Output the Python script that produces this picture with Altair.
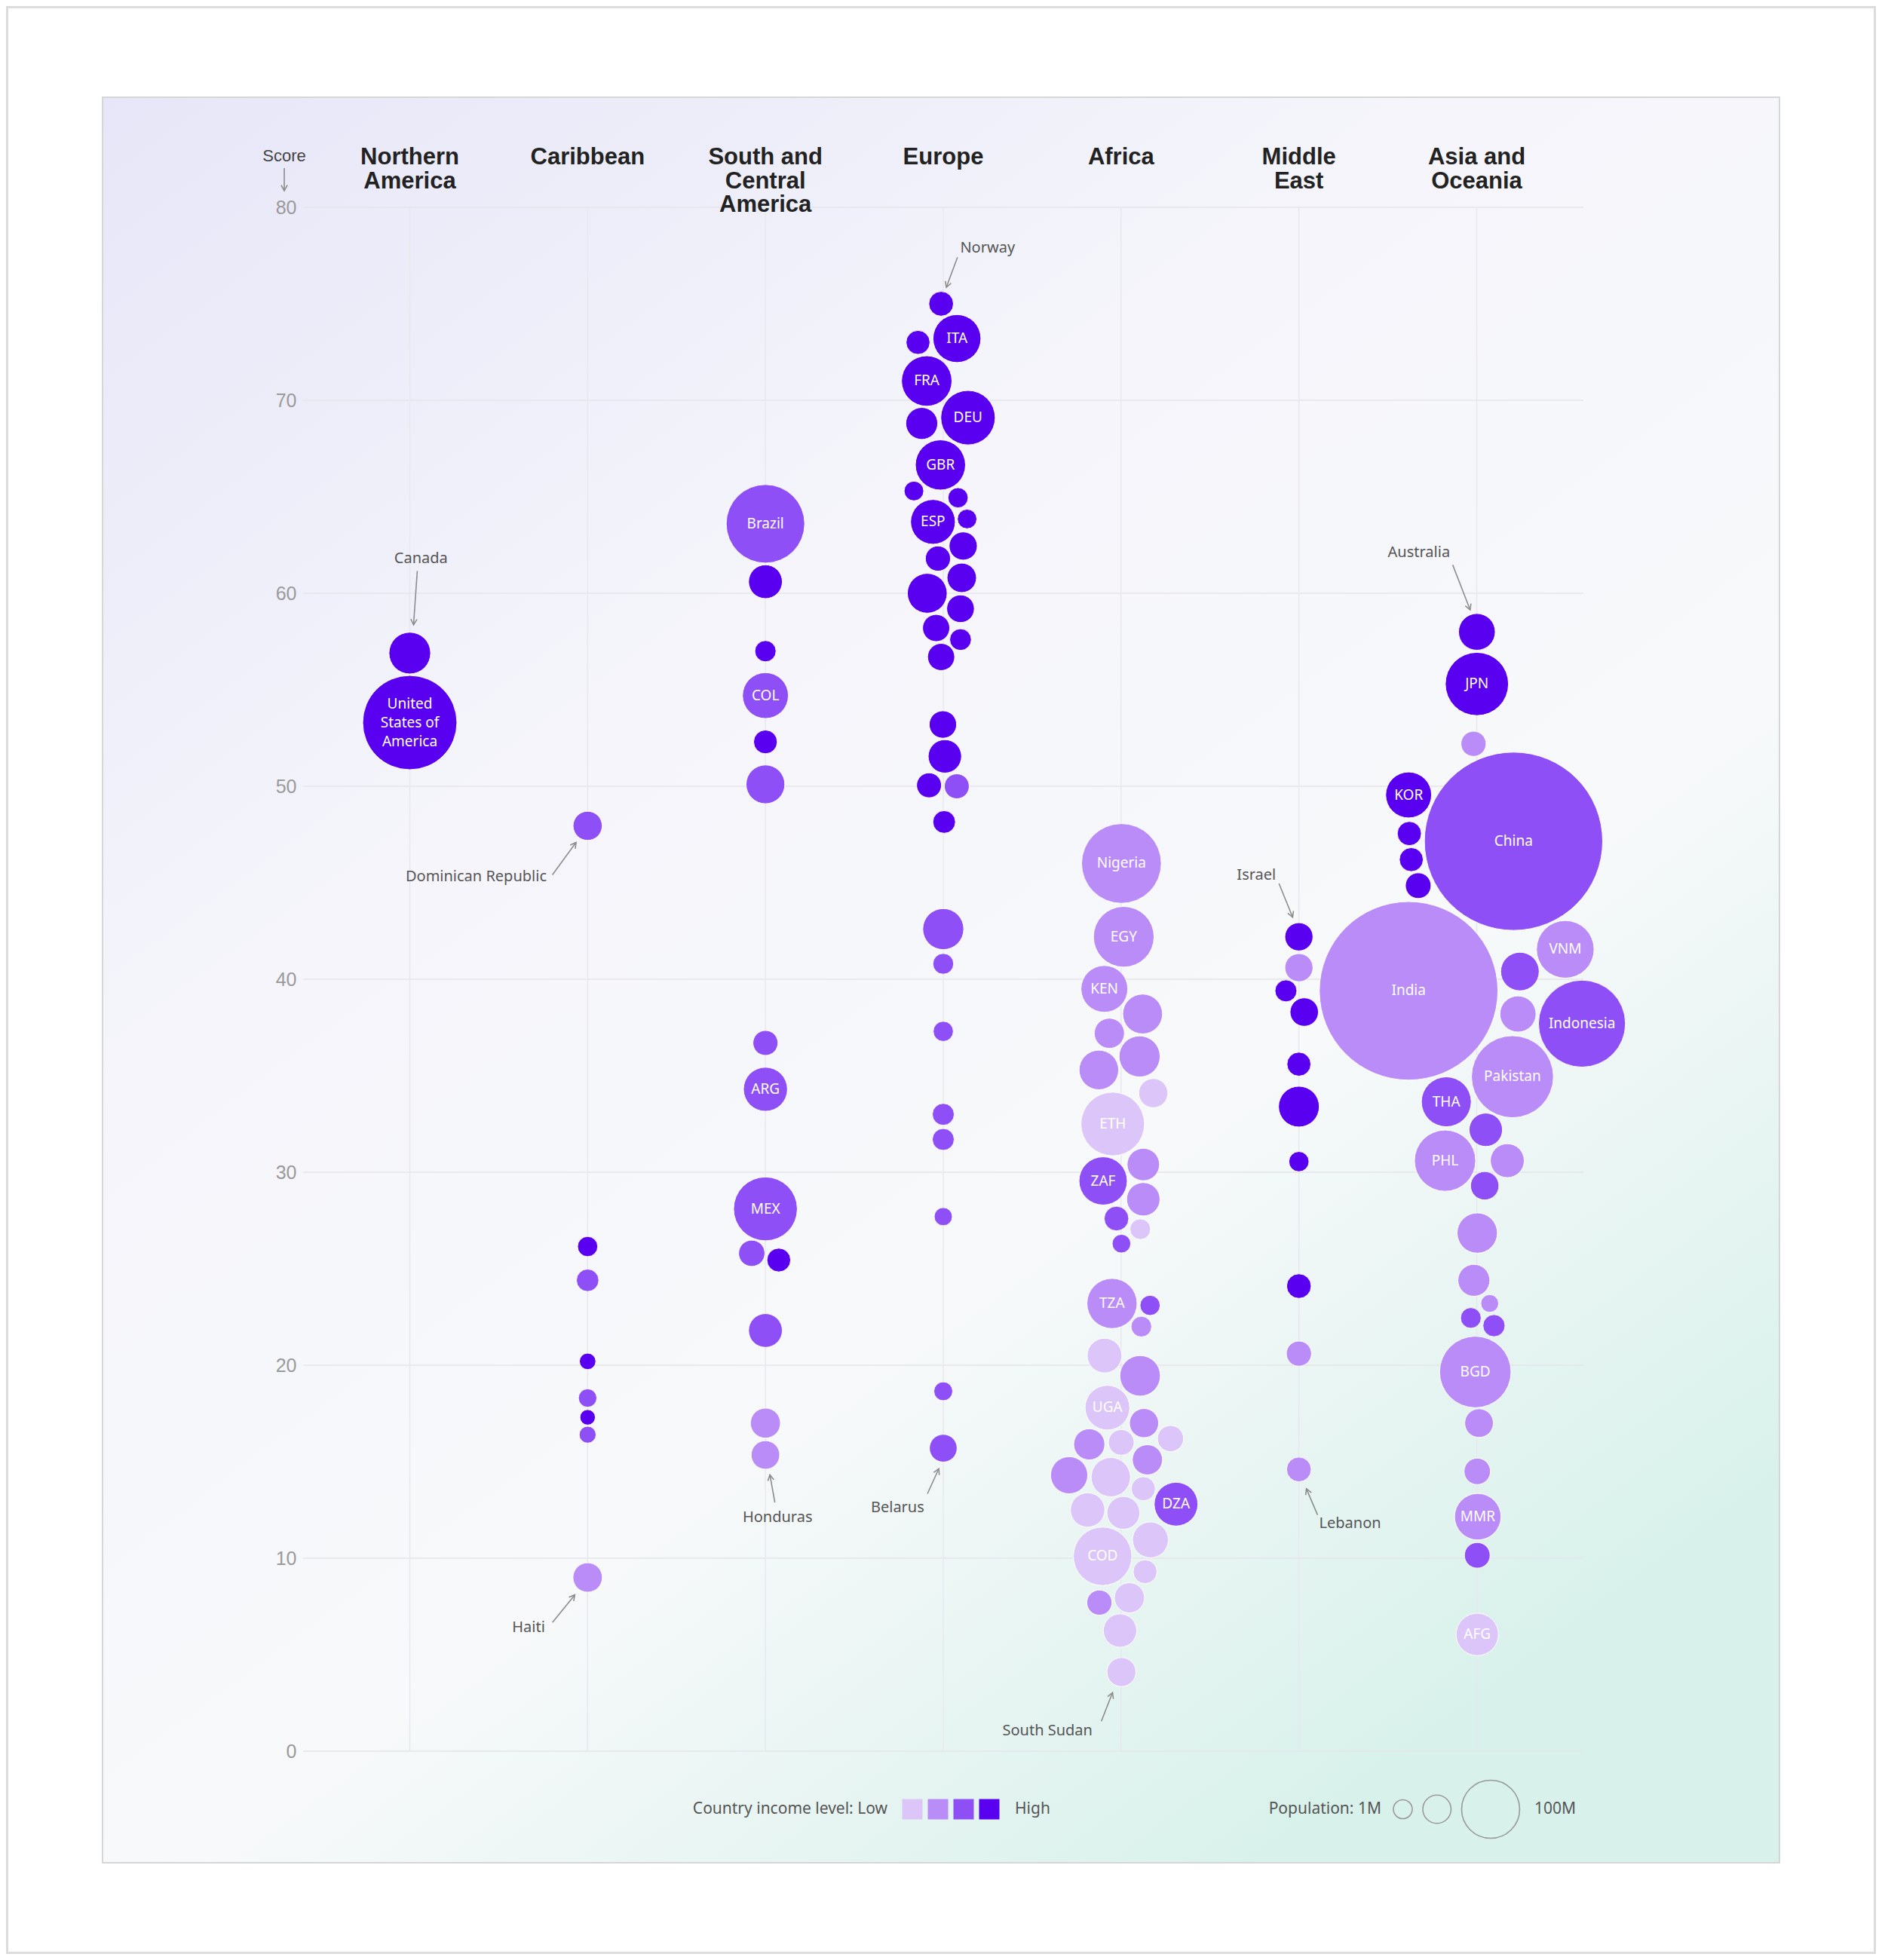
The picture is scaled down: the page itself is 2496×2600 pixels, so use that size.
import math
import altair as alt
import pandas as pd

# ---------------- data ----------------
REGIONS = ["Northern America", "Caribbean", "South and Central America", "Europe",
           "Africa", "Middle East", "Asia and Oceania"]
HEADERS = ["Northern\nAmerica", "Caribbean", "South and\nCentral\nAmerica", "Europe",
           "Africa", "Middle\nEast", "Asia and\nOceania"]
# income level code: 1 Low, 2 Lower-middle, 3 Upper-middle, 4 High
INCOME_COLORS = ["#dcc6f9", "#b98cf8", "#8f4ff7", "#5900f0"]

# swarm offset = horizontal displacement inside a column, in % of column width
NAM_SCORE = [56.9, 53.3]
NAM_POP = [39, 335]
NAM_INCOME = [4, 4]
NAM_OFFSET = [0, 0]
NAM_LABEL = ["", "United\nStates of\nAmerica"]

CAR_SCORE = [47.95, 26.15, 24.4, 20.2, 18.3, 17.3, 16.4, 9.0]
CAR_POP = [11.3, 1.7, 3.3, 0.2, 0.8, 0.05, 0.3, 11.7]
CAR_INCOME = [3, 4, 3, 4, 3, 4, 3, 2]
CAR_OFFSET = [0, 0, 0, 0, 0, 0, 0, 0]
CAR_LABEL = ["", "", "", "", "", "", "", ""]

SCA_SCORE = [63.6, 60.6, 57.0, 54.7, 52.3, 50.1, 36.7, 34.3, 28.1, 25.8, 25.45, 21.8, 17.0, 15.35]
SCA_POP = [216, 19.6, 2.4, 52, 4.5, 31, 5.8, 46, 128, 7.3, 4.5, 19.6, 12.7, 10.4]
SCA_INCOME = [3, 4, 4, 3, 4, 3, 3, 3, 3, 3, 4, 3, 2, 2]
SCA_OFFSET = [0, 0, 0, 0, 0, 0, 0, 0, 0, -7.7, 7.5, 0, 0, 0]
SCA_LABEL = ["Brazil", "", "", "COL", "", "", "", "ARG", "MEX", "", "", "", "", ""]

EUR_SCORE = [75.0, 73.0, 73.2, 71.0, 68.8, 69.1, 66.65, 65.3, 64.95, 63.7, 63.85, 62.45,
             61.8, 60.8, 60.0, 59.2, 58.2, 57.6, 56.7, 53.2, 51.55, 50.05, 50.0, 48.15,
             42.6, 40.8, 37.3, 33.0, 31.7, 27.7, 18.65, 15.7]
EUR_POP = [5.5, 4.7, 59, 68, 16, 84, 67, 1.4, 1.7, 48, 1.3, 9.8, 6.0, 11.7, 33.7, 9.1,
           8.4, 2.7, 8.4, 8.8, 18.8, 5.7, 5.7, 3.5, 37.1, 2.1, 1.7, 2.9, 2.9, 0.7, 1.0, 9.2]
EUR_INCOME = [4, 4, 4, 4, 4, 4, 4, 4, 4, 4, 4, 4, 4, 4, 4, 4, 4, 4, 4, 4, 4, 4, 3, 4,
              3, 3, 3, 3, 3, 3, 3, 3]
EUR_OFFSET = [-1.2, -14.2, 7.7, -9.3, -12.1, 13.9, -1.6, -16.5, 8.3, -5.8, 13.4, 11.2,
              -3.0, 10.4, -9.0, 9.7, -4.0, 9.7, -1.2, -0.2, 0.9, -8.0, 7.6, 0.5,
              0, 0, 0, 0, 0, 0, 0, 0]
EUR_LABEL = ["", "", "ITA", "FRA", "", "DEU", "GBR", "", "", "ESP", "", "", "", "", "", "",
             "", "", "", "", "", "", "", "", "", "", "", "", "", "", "", ""]

AFR_SCORE = [46.0, 42.2, 39.5, 38.2, 37.2, 36.0, 35.3, 34.1, 32.5, 30.4, 29.55, 28.6, 27.6,
             27.05, 26.3, 23.2, 23.1, 22.0, 20.5, 19.45, 17.8, 17.0, 16.2, 15.9, 16.0, 15.1,
             14.3, 14.2, 13.6, 12.8, 12.5, 12.35, 10.95, 10.1, 9.3, 7.7, 7.95, 6.25, 4.1]
AFR_POP = [224, 112, 55, 33.7, 12.9, 37.1, 33.0, 11.3, 127, 16.9, 60, 18.8, 5.4, 2.0, 0.9,
           67, 1.7, 2.0, 21.4, 35.7, 48, 11.3, 7.2, 14.6, 6.6, 12.9, 27.0, 32.4, 4.9, 45,
           20.9, 17.9, 24.1, 102, 4.7, 6.0, 12.9, 18.8, 11]
AFR_INCOME = [2, 2, 2, 2, 2, 2, 2, 1, 1, 2, 3, 2, 3, 1, 3, 2, 3, 2, 1, 2, 1, 2, 1, 2, 1, 2,
              2, 1, 1, 3, 1, 1, 1, 1, 1, 2, 1, 1, 1]
AFR_OFFSET = [0.2, 1.5, -9.4, 12.1, -6.6, 10.4, -12.5, 18.1, -4.7, 12.5, -10.1, 12.5, -2.6,
              10.8, 0.2, -5.1, 16.3, 11.4, -9.3, 10.7, -7.7, 12.9, 27.8, -17.9, 0.1, 14.8,
              -29.2, -5.8, 12.5, 30.9, -18.8, 1.3, 16.5, -10.4, 13.5, -12.2, 4.7, -0.6, 0.2]
AFR_LABEL = ["Nigeria", "EGY", "KEN", "", "", "", "", "", "ETH", "", "ZAF", "", "", "", "",
             "TZA", "", "", "", "", "UGA", "", "", "", "", "", "", "", "", "DZA", "", "", "",
             "COD", "", "", "", "", ""]

MEA_SCORE = [42.2, 40.6, 39.4, 38.3, 35.6, 33.4, 30.55, 24.1, 20.6, 14.6]
MEA_POP = [9.8, 9.8, 2.9, 10.2, 4.7, 36.4, 1.7, 5.4, 6.0, 5.5]
MEA_INCOME = [4, 2, 4, 4, 4, 4, 4, 4, 2, 2]
MEA_OFFSET = [0, 0, -7.3, 3.0, 0, 0, 0, 0, 0, 0]
MEA_LABEL = ["", "", "", "", "", "", "", "", "", ""]

ASO_SCORE = [58.0, 55.3, 52.2, 49.55, 47.15, 47.55, 46.2, 44.85, 39.4, 41.55, 40.4, 37.7,
             38.2, 34.95, 33.65, 32.2, 30.6, 30.6, 29.3, 26.85, 24.4, 23.2, 22.45, 22.05,
             19.65, 17.0, 14.5, 12.15, 10.15, 6.05]
ASO_POP = [26, 125, 6.0, 52, 1412, 4.9, 4.7, 6.6, 1417, 98, 30.4, 277, 24.7, 240, 66, 18.8,
           115, 19.85, 10.2, 35, 16, 0.6, 2.0, 3.1, 171, 10.6, 7.5, 54, 6.6, 41]
ASO_INCOME = [4, 4, 2, 4, 3, 4, 4, 4, 2, 2, 3, 3, 2, 2, 3, 3, 2, 2, 3, 2, 2, 2, 3, 3, 2, 2,
              2, 2, 3, 1]
ASO_OFFSET = [0.1, 0.1, -1.8, -38.3, 20.7, -37.9, -36.8, -32.9, -38.3, 49.8, 24.3, 59.2,
              23.2, 20.1, -17.1, 5.1, -17.8, 17.2, 4.5, 0.3, -1.6, 7.3, -3.3, 9.7, -0.8,
              1.3, 0.3, 0.6, 0.3, 0.3]
ASO_LABEL = ["", "JPN", "", "KOR", "China", "", "", "", "India", "VNM", "", "Indonesia", "",
             "Pakistan", "THA", "", "PHL", "", "", "", "", "", "", "", "BGD", "", "", "MMR",
             "", "AFG"]

ANN_TEXT = ["Canada", "Dominican Republic", "Haiti", "Honduras", "Norway", "Belarus",
            "South Sudan", "Israel", "Lebanon", "Australia"]
ANN_X = [0.063, 0.373, 0.668, 2.068, 3.249, 2.743, 3.586, 4.761, 5.288, 5.675]
ANN_Y = [61.8, 45.3, 6.4, 12.1, 77.9, 12.6, 1.04, 45.4, 11.8, 62.1]
ARROW_X1 = [0.042, 0.802, 0.802, 2.053, 3.080, 2.911, 3.889, 4.888, 5.105, 5.865]
ARROW_Y1 = [61.15, 45.41, 6.67, 12.89, 77.41, 13.34, 1.55, 44.96, 12.24, 61.47]
ARROW_X2 = [0.021, 0.935, 0.928, 2.025, 3.017, 2.975, 3.952, 4.965, 5.042, 5.963]
ARROW_Y2 = [58.37, 47.09, 8.10, 14.32, 75.85, 14.64, 3.04, 43.21, 13.60, 59.14]

Y_TICKS = [0, 10, 20, 30, 40, 50, 60, 70, 80]
LEGEND_INCOME = [1, 2, 3, 4]
LEGEND_POP = [1, 10, 100]

# ---------------- layout ----------------
W, H = 1698, 2048
PAD = {"left": 394, "top": 267, "right": 388, "bottom": 269}
X_DOMAIN = [-0.6, 6.6]
PX_PER_COL = W / (X_DOMAIN[1] - X_DOMAIN[0])
PX_PER_PT = H / 80.0
LABEL_LH = 25

X_SCALE = alt.Scale(domain=X_DOMAIN, nice=False, zero=False)
Y_SCALE = alt.Scale(domain=[0, 80], nice=False, zero=False)
Y_AXIS = alt.Axis(values=Y_TICKS, grid=False, domain=False, ticks=False, title="",
                  labelColor="#9a9a9a", labelFontSize=25, labelFont="Liberation Sans",
                  labelPadding=9, zindex=1)
COLOR_SCALE = alt.Scale(domain=LEGEND_INCOME, range=INCOME_COLORS)
SIZE_EXPR = "pow(19.2 + 5.78 * sqrt(datum.pop), 2)"

def diam(p):
    return 19.2 + 5.78 * math.sqrt(p)

groups = [
    (NAM_SCORE, NAM_POP, NAM_INCOME, NAM_OFFSET, NAM_LABEL),
    (CAR_SCORE, CAR_POP, CAR_INCOME, CAR_OFFSET, CAR_LABEL),
    (SCA_SCORE, SCA_POP, SCA_INCOME, SCA_OFFSET, SCA_LABEL),
    (EUR_SCORE, EUR_POP, EUR_INCOME, EUR_OFFSET, EUR_LABEL),
    (AFR_SCORE, AFR_POP, AFR_INCOME, AFR_OFFSET, AFR_LABEL),
    (MEA_SCORE, MEA_POP, MEA_INCOME, MEA_OFFSET, MEA_LABEL),
    (ASO_SCORE, ASO_POP, ASO_INCOME, ASO_OFFSET, ASO_LABEL),
]
rows = []
for ci, (sc, po, inc, off, lab) in enumerate(groups):
    for s, p, i, o, l in zip(sc, po, inc, off, lab):
        rows.append({"region": REGIONS[ci], "col": ci, "score": s, "pop": p,
                     "income": i, "offset": o, "label": l,
                     "multi": 1 if "\n" in l else 0})
df = pd.DataFrame(rows)

one = pd.DataFrame({"k": [1]})

# background panel with gradient
panel = alt.Chart(one).mark_rect(
    fill=alt.LinearGradient(
        gradient="linear", x1=0, y1=0, x2=0.7, y2=1,
        stops=[alt.GradientStop(offset=0, color="#e6e6f8"),
               alt.GradientStop(offset=0.38, color="#f5f5fb"),
               alt.GradientStop(offset=0.7, color="#f7f9fa"),
               alt.GradientStop(offset=1, color="#d8f1eb")]),
    stroke="#d6d6d6", strokeWidth=2
).encode(x=alt.value(-266), x2=alt.value(1958), y=alt.value(-146), y2=alt.value(2196))

frame = alt.Chart(one).mark_rect(fillOpacity=0, stroke="#dcdcdc", strokeWidth=3).encode(
    x=alt.value(-PAD["left"] + 1.5), x2=alt.value(W + PAD["right"] - 1.5),
    y=alt.value(-PAD["top"] + 1.5), y2=alt.value(H + PAD["bottom"] - 1.5))

hgrid = alt.Chart(pd.DataFrame({"score": Y_TICKS})).mark_rule(
    color="#e4e4ea", strokeWidth=1.5
).encode(y=alt.Y("score:Q", scale=Y_SCALE, axis=Y_AXIS), x=alt.value(0), x2=alt.value(W))

vgrid = alt.Chart(pd.DataFrame({"xpos": list(range(len(REGIONS)))})).mark_rule(
    color="#e8e8ee", strokeWidth=1.5
).encode(x=alt.X("xpos:Q", scale=X_SCALE, axis=None), y=alt.value(0), y2=alt.value(H))

base = alt.Chart(df).transform_calculate(
    xpos="datum.col + datum.offset / 100",
    area=SIZE_EXPR,
)

bubbles = base.mark_circle(opacity=1, stroke="white", strokeWidth=1).encode(
    x=alt.X("xpos:Q", scale=X_SCALE, axis=None),
    y=alt.Y("score:Q", scale=Y_SCALE, axis=Y_AXIS),
    color=alt.Color("income:O", scale=COLOR_SCALE, legend=None),
    size=alt.Size("area:Q", scale=None),
)

labels = base.transform_filter("datum.label != '' && datum.multi == 0").mark_text(
    color="white", font="Noto Sans", fontSize=19, align="center", baseline="middle"
).encode(
    x=alt.X("xpos:Q", scale=X_SCALE, axis=None),
    y=alt.Y("score:Q", scale=Y_SCALE, axis=Y_AXIS),
    text="label:N",
)

labels_multi = base.transform_filter("datum.multi == 1").mark_text(
    color="white", font="Noto Sans", fontSize=19, lineBreak="\n", lineHeight=LABEL_LH,
    align="center", baseline="middle", dy=-LABEL_LH
).encode(
    x=alt.X("xpos:Q", scale=X_SCALE, axis=None),
    y=alt.Y("score:Q", scale=Y_SCALE, axis=Y_AXIS),
    text="label:N",
)

# annotations
ang = []
for x1, y1, x2, y2 in zip(ARROW_X1, ARROW_Y1, ARROW_X2, ARROW_Y2):
    sdx = (x2 - x1) * PX_PER_COL
    sdy = -(y2 - y1) * PX_PER_PT
    ang.append((math.degrees(math.atan2(sdy, sdx)) - 90) % 360)
ann_df = pd.DataFrame({"text": ANN_TEXT, "xpos": ANN_X, "score": ANN_Y})
arr_df = pd.DataFrame({"xpos": ARROW_X1, "score": ARROW_Y1, "xpos2": ARROW_X2,
                       "score2": ARROW_Y2, "ang": ang})

ann_text = alt.Chart(ann_df).mark_text(
    font="Noto Sans", fontSize=20, color="#555555", align="center", baseline="middle"
).encode(x=alt.X("xpos:Q", scale=X_SCALE, axis=None),
         y=alt.Y("score:Q", scale=Y_SCALE, axis=Y_AXIS), text="text:N")

ann_line = alt.Chart(arr_df).mark_rule(color="#8c8c8c", strokeWidth=1.6).encode(
    x=alt.X("xpos:Q", scale=X_SCALE, axis=None), x2="xpos2:Q",
    y=alt.Y("score:Q", scale=Y_SCALE, axis=Y_AXIS), y2="score2:Q")

HEAD = "M -0.55 -1 L 0 0 L 0.55 -1"
ann_head = alt.Chart(arr_df).mark_point(
    shape=HEAD, filled=False, stroke="#8c8c8c", strokeWidth=1.6, size=220, opacity=1
).encode(x=alt.X("xpos2:Q", scale=X_SCALE, axis=None),
         y=alt.Y("score2:Q", scale=Y_SCALE, axis=Y_AXIS),
         angle=alt.Angle("ang:Q", scale=None))

# column headers
headers = alt.Chart(pd.DataFrame({"xpos": list(range(len(HEADERS))), "h": HEADERS})).mark_text(
    font="Liberation Sans", fontWeight="bold", fontSize=31, lineHeight=31.5,
    lineBreak="\n", color="#222222", align="center", baseline="top"
).encode(x=alt.X("xpos:Q", scale=X_SCALE, axis=None), y=alt.value(-81), text="h:N")

score_lbl = alt.Chart(pd.DataFrame({"t": ["Score"]})).mark_text(
    font="Liberation Sans", fontSize=22, color="#444444", align="center", baseline="middle"
).encode(x=alt.value(-25), y=alt.value(-68), text="t:N")
score_line = alt.Chart(one).mark_rule(color="#8c8c8c", strokeWidth=1.6).encode(
    x=alt.value(-25), y=alt.value(-52), y2=alt.value(-22))
score_head = alt.Chart(one).mark_point(
    shape=HEAD, filled=False, stroke="#8c8c8c", strokeWidth=1.6, size=220, opacity=1
).encode(x=alt.value(-25), y=alt.value(-22))

# legends
LEG_Y = 2125
leg_txt_df = pd.DataFrame({
    "t": ["Country income level: Low", "High", "Population: 1M", "100M"],
    "px": [775, 944, 1430, 1633],
    "al": ["right", "left", "right", "left"],
})
leg_text_r = alt.Chart(leg_txt_df).transform_filter("datum.al == 'right'").mark_text(
    font="Noto Sans", fontSize=21, color="#555555", align="right", baseline="middle"
).encode(x=alt.X("px:Q", scale=None), y=alt.value(LEG_Y), text="t:N")
leg_text_l = alt.Chart(leg_txt_df).transform_filter("datum.al == 'left'").mark_text(
    font="Noto Sans", fontSize=21, color="#555555", align="left", baseline="middle"
).encode(x=alt.X("px:Q", scale=None), y=alt.value(LEG_Y), text="t:N")

sq_df = pd.DataFrame({"income": LEGEND_INCOME,
                      "px": [808 + 34 * k for k in range(len(LEGEND_INCOME))]})
leg_sq = alt.Chart(sq_df).mark_square(size=729, opacity=1).encode(
    x=alt.X("px:Q", scale=None), y=alt.value(LEG_Y),
    color=alt.Color("income:O", scale=COLOR_SCALE, legend=None))

cx = []
pos = 1446.0
prev_r = 0.0
for k, p in enumerate(LEGEND_POP):
    r = diam(p) / 2
    pos = pos + (prev_r + 14 + r if k > 0 else r)
    cx.append(pos)
    prev_r = r
pc_df = pd.DataFrame({"pop": LEGEND_POP, "px": cx})
leg_circ = alt.Chart(pc_df).transform_calculate(area=SIZE_EXPR).mark_point(
    shape="circle", filled=False, stroke="#9a9a9a", strokeWidth=1.6, opacity=1
).encode(x=alt.X("px:Q", scale=None), y=alt.value(LEG_Y), size=alt.Size("area:Q", scale=None))

chart = alt.layer(
    panel, frame, hgrid, vgrid, bubbles, labels, labels_multi, ann_line, ann_head, ann_text,
    headers, score_lbl, score_line, score_head, leg_text_r, leg_text_l, leg_sq, leg_circ
).properties(
    width=W, height=H, padding=PAD, autosize=alt.AutoSizeParams(type="none")
).configure_view(strokeWidth=0).configure(background="white")

chart.save("out.html", embed_options={"renderer": "svg", "actions": False})
